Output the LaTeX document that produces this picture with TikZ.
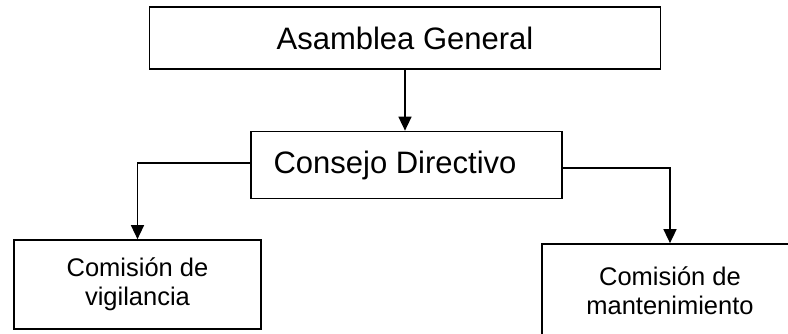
\documentclass[tikz,border=0pt]{standalone}
\usepackage{fontspec}
\setmainfont{Liberation Sans}
\usetikzlibrary{positioning}
\usetikzlibrary{arrows.meta}

\begin{document}
\begin{tikzpicture}[
    x=1pt, y=-1pt,
    orgbox/.style={rectangle, draw=black, line width=1.7pt, inner sep=0pt},
    bigtext/.style={font=\fontsize{31}{37}\selectfont},
    smalltext/.style={font=\fontsize{25.5}{29}\selectfont, align=center},
    orgarrow/.style={line width=1.5pt, -{Triangle[length=14pt, width=13pt]}}
]
    \useasboundingbox (0, 0) rectangle (788, 333);
    % Organigrama
    % - [Boxes]
    \node at (405, 38) [orgbox, bigtext, minimum width=511pt, minimum height=62pt](assembly){Asamblea General};
    \node at (406.5, 165) [orgbox, bigtext, minimum width=311pt, minimum height=67pt](council){Consejo Directivo\hspace*{23pt}};
    \node at (137.5, 284.5) [orgbox, smalltext, minimum width=247pt, minimum height=89pt](vigilance){Comisión de\\vigilancia};
    \node at (670, 290.5) [orgbox, smalltext, minimum width=256pt, minimum height=93pt](maintenance){Comisión de\\mantenimiento};
    % - [Connectors]
    \draw [orgarrow] (assembly.south) -- (assembly.south |- council.north) ;
    \draw [orgarrow] ([yshift=2pt]council.west) -| (vigilance.north) ;
    \draw [orgarrow] ([yshift=-3pt]council.east) -| (maintenance.north) ;
\end{tikzpicture}
\end{document}
